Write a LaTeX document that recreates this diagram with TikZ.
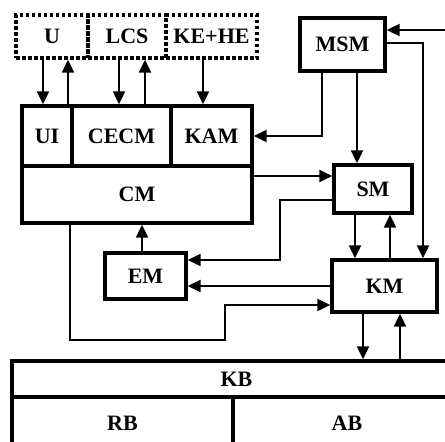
\documentclass[tikz,border=0pt]{standalone}
\usepackage{fontspec}
\setmainfont{Liberation Serif}
\usetikzlibrary{arrows.meta, calc}

\begin{document}
\begin{tikzpicture}[
  x=1pt, y=-1pt,
  box/.style={draw, line width=3.4pt, inner sep=0pt, align=center,
              font=\fontsize{22}{24}\selectfont\bfseries},
  dotbox/.style={box, line width=3.4pt, dash pattern=on 3.5pt off 2.5pt},
  arr/.style={-{Triangle[length=13pt, width=12pt]}, line width=2.2pt},
]
\useasboundingbox (0,0) rectangle (445,442);
\clip (0,0) rectangle (445,442);

%% --- external parts (dotted) ---
\node[dotbox, minimum width=72pt, minimum height=43pt] (u)    at (52,36.5)    {U};
\node[dotbox, minimum width=78pt, minimum height=43pt] (lcs)  at (127,36.5)   {LCS};
\node[dotbox, minimum width=91pt, minimum height=43pt] (kehe) at (211.5,36.5) {KE+HE};

%% --- main block ---
\node[box, minimum width=50pt,  minimum height=60pt] (ui)   at (47,136)    {UI};
\node[box, minimum width=99pt,  minimum height=60pt] (cecm) at (121.5,136) {CECM};
\node[box, minimum width=81pt,  minimum height=60pt] (kam)  at (211.5,136) {KAM};
\node[box, minimum width=230pt, minimum height=57pt] (cm)   at (137,194.5) {CM};

%% --- modules ---
\node[box, minimum width=85pt,  minimum height=53pt] (msm) at (342.5,44.5) {MSM};
\node[box, minimum width=78pt,  minimum height=48pt] (sm)  at (373,189)    {SM};
\node[box, minimum width=81pt,  minimum height=46pt] (em)  at (145.5,276)  {EM};
\node[box, minimum width=105pt, minimum height=52pt] (km)  at (384.5,286)  {KM};

%% --- knowledge base ---
\node[box, minimum width=449pt, minimum height=36pt] (kb) at (236.5,379) {KB};
\node[box, minimum width=221pt, minimum height=52pt] (rb) at (122.5,423) {RB};
\node[box, minimum width=228pt, minimum height=52pt] (ab) at (347,423)   {AB};

\coordinate (ext) at (445,30);

%% --- arrows top row ---
\draw[arr] ([xshift=-9pt]u.south) -- ([xshift=-9pt]u.south |- ui.north);
\draw[arr] ([xshift=16pt]u.south |- ui.north) -- ([xshift=16pt]u.south);
\draw[arr] ([xshift=-8pt]lcs.south) -- ([xshift=-8pt]lcs.south |- cecm.north);
\draw[arr] ([xshift=18pt]lcs.south |- cecm.north) -- ([xshift=18pt]lcs.south);
\draw[arr] ([xshift=-8.5pt]kehe.south) -- ([xshift=-8.5pt]kehe.south |- kam.north);

%% --- MSM links ---
\draw[arr] (ext) -- (ext -| msm.east);
\draw[arr] ([xshift=-20.5pt]msm.south) |- (kam.east);
\draw[arr] ([xshift=14.5pt]msm.south) -- ([xshift=14.5pt]msm.south |- sm.north);
\draw[arr] ([yshift=1.5pt]msm.east) -| ([xshift=38.5pt]km.north);

%% --- CM, SM, EM, KM ---
\draw[arr] ([yshift=13pt]sm.west -| cm.east) -- ([yshift=13pt]sm.west);
\draw[arr] ([yshift=-11pt]sm.west) -- ++(-52,0) |- ([yshift=16pt]em.east);
\draw[arr] (km.west) -- (km.west -| em.east);
\draw[arr] ([xshift=-3.5pt]em.north) -- ([xshift=-3.5pt]em.north |- cm.south);
\draw[arr] ([xshift=-67pt]cm.south) -- ++(0,115) -- ++(155,0) |- ([yshift=-19pt]km.west);
\draw[arr] ([xshift=-18pt]sm.south) -- ([xshift=-18pt]sm.south |- km.north);
\draw[arr] ([xshift=17pt]sm.south |- km.north) -- ([xshift=17pt]sm.south);

%% --- KM and KB ---
\draw[arr] ([xshift=-21.5pt]km.south) -- ([xshift=-21.5pt]km.south |- kb.north);
\draw[arr] ([xshift=15.5pt]km.south |- kb.north) -- ([xshift=15.5pt]km.south);

\end{tikzpicture}
\end{document}
